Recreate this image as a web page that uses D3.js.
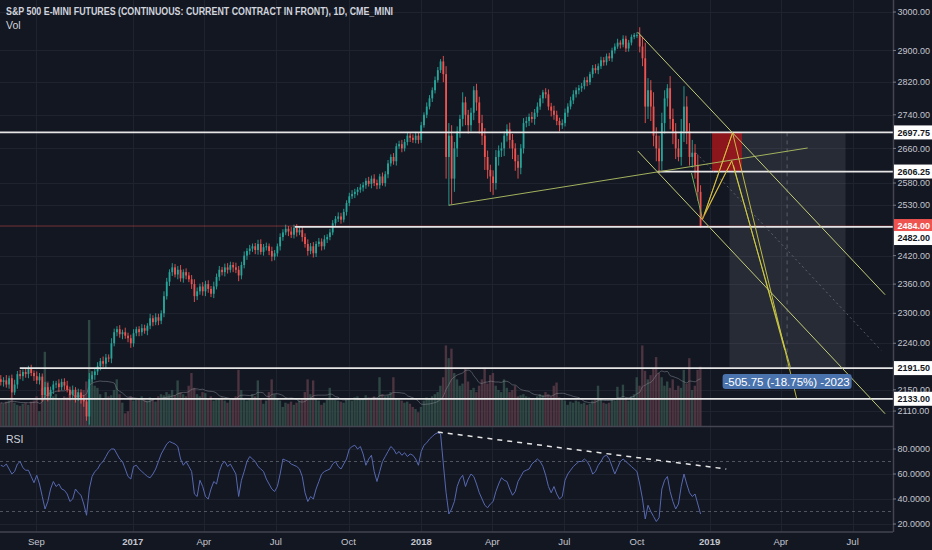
<!DOCTYPE html>
<html lang="en">
<head>
  <meta charset="utf-8">
  <title>S&amp;P 500 E-mini Futures, 1D</title>
  <style>
    body { margin: 0; background: #131722; }
    svg text { font-family: "Liberation Sans", "Open Sans", sans-serif; }
  </style>
</head>
<body>
  <svg id="chart"></svg>

  <script src="https://d3js.org/d3.v7.min.js"></script>
  <script>
    // ---- data (two bars per week) ----
    const startDate = "2016-07-18";
    const firstOpen = 2170;

    const closes = [
      2165, 2168, 2160, 2172, 2145, 2160, 2180, 2176, 2184, 2180,
      2190, 2182, 2176, 2168, 2175, 2140, 2155, 2138, 2150, 2160,
      2162, 2155, 2165, 2158, 2150, 2140, 2150, 2135, 2145, 2132,
      2128, 2100, 2170, 2178, 2185, 2195, 2205, 2200, 2212, 2210,
      2240, 2262, 2268, 2258, 2262, 2255, 2250, 2240, 2260, 2268,
      2262, 2270, 2265, 2275, 2290, 2282, 2292, 2285, 2300, 2335,
      2365, 2385, 2395, 2380, 2390, 2372, 2385, 2378, 2370, 2360,
      2335, 2345, 2355, 2345, 2360, 2350, 2340, 2355, 2375, 2390,
      2385, 2395, 2390, 2400, 2395, 2390, 2378, 2400, 2420, 2430,
      2435, 2440, 2432, 2445, 2428, 2438, 2440, 2430, 2418, 2425,
      2440, 2460, 2470, 2478, 2472, 2465, 2480, 2470, 2475, 2460,
      2445, 2430, 2440, 2425, 2445, 2450, 2440, 2455, 2460, 2470,
      2490, 2500, 2505, 2498, 2515, 2535, 2550, 2555, 2560, 2565,
      2570, 2575, 2585, 2578, 2590, 2580, 2575, 2595, 2580, 2600,
      2625, 2640, 2630, 2665, 2670, 2660, 2675, 2690, 2685, 2680,
      2690, 2680, 2715, 2740, 2760, 2780, 2800, 2825, 2850, 2872,
      2840, 2640, 2690, 2590, 2660, 2700, 2730, 2770, 2740, 2715,
      2745, 2800, 2770, 2720, 2690, 2640, 2610, 2595, 2580, 2640,
      2655, 2660, 2690, 2705, 2680, 2660, 2630, 2615, 2660, 2720,
      2725, 2735, 2730, 2745, 2760, 2780, 2795, 2790, 2760, 2750,
      2740, 2725, 2715, 2720, 2745, 2760, 2775, 2790, 2800, 2805,
      2810, 2825, 2820, 2840, 2855, 2850, 2860, 2875, 2870, 2885,
      2880, 2900, 2910, 2920, 2915, 2930, 2905, 2920, 2935, 2940,
      2940, 2910, 2880, 2760, 2800, 2760, 2690, 2660, 2630, 2720,
      2780, 2805, 2730, 2700, 2660, 2640, 2700, 2760, 2700, 2640,
      2650, 2620, 2560, 2484
    ];

    // wick length above / below the body, in index points
    const wickHi = [
      8, 6, 10, 5, 7, 9, 6, 8, 5, 7,
      6, 8, 5, 9, 7, 6, 10, 8, 6, 7,
      5, 8, 6, 7, 9, 6, 8, 5, 7, 6,
      8, 6, 12, 7, 5, 8, 6, 9, 7, 6,
      10, 7, 6, 8, 5, 9, 6, 7, 8, 5,
      6, 8, 7, 5, 9, 6, 8, 7, 6, 10,
      8, 6, 9, 7, 8, 10, 6, 8, 7, 9,
      10, 8, 6, 9, 7, 8, 6, 10, 7, 8,
      6, 8, 9, 7, 6, 10, 8, 7, 9, 6,
      8, 6, 7, 9, 10, 7, 8, 6, 9, 7,
      6, 8, 7, 9, 6, 10, 7, 8, 6, 9,
      8, 10, 7, 9, 6, 8, 7, 9, 6, 8,
      7, 6, 9, 8, 7, 6, 8, 9, 7, 6,
      8, 7, 6, 9, 7, 10, 8, 6, 9, 7,
      8, 6, 9, 7, 8, 10, 7, 9, 6, 8,
      9, 7, 8, 6, 10, 8, 7, 9, 8, 6,
      14, 20, 30, 25, 15, 12, 10, 25, 14, 12,
      12, 10, 16, 14, 20, 18, 15, 12, 14, 16,
      12, 14, 10, 12, 16, 14, 12, 15, 10, 12,
      10, 8, 12, 9, 10, 8, 6, 10, 12, 9,
      12, 10, 8, 9, 10, 8, 9, 10, 7, 8,
      8, 7, 9, 6, 8, 10, 7, 9, 8, 7,
      9, 7, 8, 10, 6, 9, 8, 7, 6, 5,
      7, 20, 25, 40, 30, 25, 35, 20, 30, 25,
      20, 10, 30, 25, 20, 22, 30, 50, 25, 20,
      30, 20, 25, 15
    ];
    const wickLo = [
      7, 9, 6, 8, 10, 5, 8, 6, 9, 7,
      8, 6, 9, 7, 8, 12, 7, 10, 6, 8,
      7, 9, 6, 8, 5, 10, 7, 9, 6, 8,
      10, 8, 15, 6, 9, 7, 8, 6, 10, 7,
      9, 6, 8, 7, 10, 6, 8, 9, 7, 6,
      8, 7, 6, 9, 7, 8, 6, 9, 7, 8,
      7, 9, 8, 6, 10, 7, 9, 8, 6, 10,
      12, 8, 7, 9, 10, 8, 7, 9, 6, 8,
      7, 9, 8, 6, 10, 7, 12, 8, 7, 9,
      8, 7, 9, 10, 6, 8, 7, 9, 10, 8,
      7, 9, 8, 6, 10, 7, 8, 9, 6, 10,
      8, 10, 7, 9, 8, 6, 9, 7, 8, 7,
      6, 8, 7, 9, 6, 8, 7, 6, 9, 8,
      7, 9, 8, 6, 10, 7, 9, 8, 6, 8,
      9, 7, 8, 10, 6, 9, 7, 8, 10, 7,
      8, 9, 7, 6, 8, 7, 9, 8, 6, 7,
      20, 50, 111, 58, 30, 20, 15, 18, 25, 20,
      15, 18, 20, 25, 22, 30, 20, 35, 27, 15,
      20, 15, 18, 14, 20, 25, 22, 25, 15, 12,
      10, 12, 9, 14, 10, 8, 12, 10, 9, 14,
      12, 10, 15, 9, 8, 10, 7, 9, 8, 10,
      9, 8, 10, 7, 9, 8, 10, 7, 9, 8,
      7, 9, 8, 6, 10, 7, 9, 8, 7, 6,
      8, 15, 20, 40, 30, 35, 25, 30, 27, 20,
      25, 20, 25, 30, 25, 10, 20, 25, 30, 20,
      25, 30, 20, 4
    ];

    // volume, thousands of contracts
    const volumes = [
      1100, 1050, 1150, 1200, 1350, 1100, 1000, 950, 1050, 1100,
      1000, 1150, 1200, 1400, 700, 1800, 3500, 2100, 1600, 1400,
      1500, 1300, 1250, 1400, 1350, 1500, 1300, 1450, 1600, 1550,
      1700, 2100, 5000, 2600, 1900, 1800, 1500, 1300, 1600, 1400,
      1450, 1700, 2200, 1500, 1100, 600, 700, 1400, 1200, 1250,
      1300, 1400, 1250, 1200, 1350, 1300, 1150, 1400, 1500, 1450,
      1600, 1500, 1700, 1450, 2150, 1600, 1500, 1400, 1900, 2500,
      1800, 1500, 1400, 1600, 1550, 1300, 1400, 1200, 1250, 1300,
      1350, 1200, 1100, 1250, 1300, 1400, 2650, 1700, 1300, 1200,
      1250, 1500, 1400, 2150, 1300, 1050, 1200, 1600, 2200, 1500,
      1300, 1200, 900, 1100, 1050, 1150, 1000, 1100, 1200, 1300,
      1600, 2200, 1500, 2150, 1300, 1200, 1000, 1100, 1250, 1800,
      1300, 1250, 1200, 1150, 1100, 1250, 1300, 1200, 1350, 1400,
      1250, 1300, 1450, 1350, 1300, 1400, 1250, 2300, 1500, 1400,
      1450, 1600, 2300, 1300, 1250, 1200, 1100, 1150, 1050, 900,
      800, 650, 900, 1200, 1350, 1300, 1400, 1500, 1600, 1900,
      2300, 3800, 3200, 3650, 2500, 2200, 1900, 2000, 2700, 2100,
      1700, 1800, 1600, 1900, 2200, 2750, 2000, 2400, 2500, 1900,
      1700, 1600, 2200, 1800, 1600, 1700, 1900, 1400, 1450, 1500,
      1400, 1350, 1300, 1250, 1400, 1500, 1450, 1600, 1500, 1400,
      1900, 2050, 1350, 1300, 1200, 1000, 1150, 1100, 1200, 1150,
      1050, 1100, 1000, 1050, 1200, 1250, 1900, 1300, 1100, 1050,
      1100, 1250, 1200, 1850, 1300, 1950, 1300, 1200, 1400, 1500,
      2300, 1900, 3800, 2600, 2200, 2400, 2700, 3250, 2500, 2300,
      1900, 2100, 1800, 2200, 1700, 1900, 1800, 2650, 2000, 3200,
      1700, 1900, 2650, 2800
    ];

    const rsiValues = [
      67, 66, 68, 64, 60, 62, 68, 70, 65, 63,
      63, 58, 53, 59, 52, 42, 32, 38, 48, 54,
      50, 52, 48, 47, 44, 38, 40, 48, 45, 43,
      36, 27, 48, 58, 62, 64, 68, 70, 74, 78,
      80, 80, 76, 72, 70, 64, 58, 56, 66, 67,
      64, 62, 60, 58, 57, 60, 64, 70, 76, 80,
      84, 86, 85, 84, 82, 72, 67, 70, 66, 62,
      44, 42, 55, 50, 42, 40, 48, 54, 52, 62,
      68, 70, 66, 68, 64, 60, 42, 55, 62, 70,
      74, 72, 70, 66, 64, 62, 56, 52, 48, 46,
      50, 60, 72, 71, 70, 68, 67, 66, 64, 58,
      45, 38, 42, 40, 48, 54, 60, 62, 63, 64,
      68, 70, 66, 64, 68, 72, 80, 82, 83, 80,
      82, 76, 67, 72, 75, 62, 54, 62, 70, 74,
      78, 82, 80, 76, 78, 75, 77, 74, 76, 75,
      72, 67, 78, 83, 85, 88, 90, 92, 93, 92,
      68, 45, 28, 32, 38, 50, 56, 59, 50, 56,
      60, 58, 52, 45, 40, 35, 33, 36, 38, 46,
      52, 57, 55, 54, 48, 43, 46, 54, 58, 62,
      63, 64, 68, 70, 72, 70, 66, 59, 50, 45,
      50, 44, 40, 42, 55, 60, 63, 66, 68, 70,
      70, 72, 70, 66, 60, 62, 67, 70, 74, 75,
      72, 66, 60, 65, 70, 72, 70, 68, 66, 64,
      62, 52, 40, 24, 35, 30, 26, 22, 25, 48,
      55, 58, 46, 38, 32, 36, 50, 60, 52, 45,
      42, 44, 36, 28
    ];

    const priceTicks = [3000, 2900, 2820, 2740, 2660, 2580, 2530, 2420, 2360, 2300, 2240, 2150, 2110];
    const rsiTicks = [20, 40, 60, 80];
    const rsiBands = [70, 30];
    const timeTicks = ["2016-09-01", "2017-01-01", "2017-04-01", "2017-07-01", "2017-10-01", "2018-01-01",
                       "2018-04-01", "2018-07-01", "2018-10-01", "2019-01-01", "2019-04-01", "2019-07-01"];
    const timeLabels = ["Sep", "2017", "Apr", "Jul", "Oct", "2018", "Apr", "Jul", "Oct", "2019", "Apr", "Jul"];

    // horizontal levels and where each one starts
    const levelPrices = [2697.75, 2606.25, 2482.00, 2191.50, 2133.00];
    const levelStarts = ["2016-07-17", "2018-10-27", "2017-07-25", "2016-08-11", "2016-07-17"];

    // drawings, as [date, price] end points
    const channelLines = [
      [["2018-10-02", 2947], ["2019-08-11", 2338]],
      [["2018-10-02", 2654], ["2019-08-11", 2105]]
    ];
    const channelMid = [["2018-12-15", 2649], ["2019-08-06", 2226]];
    const supportLine = [["2018-02-05", 2530], ["2019-05-05", 2661]];
    const swingLine = [["2018-12-09", 2603], ["2018-12-23", 2499]];
    const fanOrange = [
      [["2018-12-23", 2499], ["2019-01-30", 2697]],
      [["2018-12-23", 2499], ["2019-01-29", 2631]]
    ];
    const fanYellow = [
      [["2018-12-25", 2508], ["2019-01-30", 2697]],
      [["2018-12-26", 2512], ["2019-01-29", 2631]],
      [["2019-01-30", 2697], ["2019-04-21", 2134]],
      [["2019-01-29", 2631], ["2019-04-13", 2194]],
      [["2019-01-31", 2621], ["2019-04-06", 2227]]
    ];
    const stopZone = [["2019-01-04", 2697.75], ["2019-02-11", 2606.25]];
    const targetZone = [["2019-01-26", 2697.75], ["2019-06-22", 2191.50]];
    const measureDate = "2019-04-09";
    const measureText = "-505.75 (-18.75%) -2023";
    const lastPrice = 2484.00;
    const rsiTrend = [["2018-01-22", 93.6], ["2019-01-22", 64]];

    const title = "S&P 500 E-MINI FUTURES (CONTINUOUS: CURRENT CONTRACT IN FRONT), 1D, CME_MINI";

    // ---- layout ----
    const W = 932, H = 550;
    const axisX = 893, mainBottom = 426, rsiTop = 427, rsiBottom = 532;
    const bg = "#131722", gridColor = "#1f2330", axisText = "#c3c6ce";

    const parseDay = d3.timeParse("%Y-%m-%d");

    const x = d3.scaleTime()
      .domain([parseDay("2016-07-17"), parseDay("2019-08-21")])
      .range([0, axisX]);
    const y = d3.scaleLog().domain([2082.4, 3000]).range([mainBottom, 12]);
    const yVol = d3.scaleLinear().domain([0, 5000]).range([mainBottom, 320]);
    const yRsi = d3.scaleLinear().domain([20, 80]).range([524, 449]);

    const start = parseDay(startDate);
    const bars = closes.map((c, i) => {
      const open = i === 0 ? firstOpen : closes[i - 1];
      return {
        date: d3.timeHour.offset(start, i * 84),
        open: open,
        close: c,
        high: Math.max(open, c) + wickHi[i],
        low: Math.min(open, c) - wickLo[i],
        vol: volumes[i],
        rsi: rsiValues[i]
      };
    });
    const step = x(bars[1].date) - x(bars[0].date);

    // simple moving average of volume (10 bars ~ 20 sessions)
    const volMa = bars.map((b, i) => {
      const from = Math.max(0, i - 9);
      return { date: b.date, v: d3.mean(bars.slice(from, i + 1), d => d.vol) };
    });

    const pt = p => [x(parseDay(p[0])), y(p[1])];

    const svg = d3.select("#chart").attr("width", W).attr("height", H);
    svg.append("rect").attr("width", W).attr("height", H).attr("fill", bg);

    const defs = svg.append("defs");
    defs.append("clipPath").attr("id", "mainClip")
      .append("rect").attr("x", 0).attr("y", 0).attr("width", axisX).attr("height", mainBottom);
    defs.append("clipPath").attr("id", "rsiClip")
      .append("rect").attr("x", 0).attr("y", rsiTop).attr("width", axisX).attr("height", rsiBottom - rsiTop);

    // ---- grid ----
    const grid = svg.append("g").attr("stroke", gridColor).attr("stroke-width", 1);
    grid.selectAll("line.v").data(timeTicks).join("line")
      .attr("x1", d => Math.round(x(parseDay(d))) + 0.5)
      .attr("x2", d => Math.round(x(parseDay(d))) + 0.5)
      .attr("y1", 0).attr("y2", rsiBottom);
    grid.selectAll("line.h").data(priceTicks).join("line")
      .attr("x1", 0).attr("x2", axisX)
      .attr("y1", d => Math.round(y(d)) + 0.5)
      .attr("y2", d => Math.round(y(d)) + 0.5);
    grid.selectAll("line.r").data(rsiTicks).join("line")
      .attr("x1", 0).attr("x2", axisX)
      .attr("y1", d => Math.round(yRsi(d)) + 0.5)
      .attr("y2", d => Math.round(yRsi(d)) + 0.5);

    // ---- main pane ----
    const main = svg.append("g").attr("clip-path", "url(#mainClip)");

    // volume
    main.append("g").selectAll("rect").data(bars).join("rect")
      .attr("x", d => x(d.date) - step / 2)
      .attr("width", step - 0.4)
      .attr("y", d => yVol(d.vol))
      .attr("height", d => mainBottom - yVol(d.vol))
      .attr("fill", d => d.close >= d.open ? "#34504a" : "#573a45")
      .attr("opacity", 0.85);

    main.append("path")
      .datum(volMa)
      .attr("fill", "none")
      .attr("stroke", "#8a8d96")
      .attr("stroke-opacity", 0.5)
      .attr("stroke-width", 1)
      .attr("d", d3.line().x(d => x(d.date)).y(d => yVol(d.v)).curve(d3.curveMonotoneX));

    // candles
    const candle = main.append("g").selectAll("g").data(bars).join("g")
      .attr("stroke", d => d.close >= d.open ? "#26a69a" : "#ef5350")
      .attr("fill", d => d.close >= d.open ? "#26a69a" : "#ef5350");
    candle.append("line")
      .attr("x1", d => x(d.date)).attr("x2", d => x(d.date))
      .attr("y1", d => y(d.high)).attr("y2", d => y(d.low))
      .attr("stroke-width", 0.9);
    candle.append("rect")
      .attr("stroke", "none")
      .attr("x", d => x(d.date) - 0.9)
      .attr("width", 1.8)
      .attr("y", d => y(Math.max(d.open, d.close)))
      .attr("height", d => Math.max(1, Math.abs(y(d.open) - y(d.close))));

    // last price line
    main.append("line")
      .attr("x1", 0).attr("x2", axisX)
      .attr("y1", y(lastPrice)).attr("y2", y(lastPrice))
      .attr("stroke", "#ef5350").attr("stroke-opacity", 0.45).attr("stroke-width", 1);

    // target / stop zones
    main.append("rect")
      .attr("x", pt(targetZone[0])[0]).attr("y", pt(targetZone[0])[1])
      .attr("width", pt(targetZone[1])[0] - pt(targetZone[0])[0])
      .attr("height", pt(targetZone[1])[1] - pt(targetZone[0])[1])
      .attr("fill", "#ffffff").attr("fill-opacity", 0.085);
    main.append("rect")
      .attr("x", pt(stopZone[0])[0]).attr("y", pt(stopZone[0])[1])
      .attr("width", pt(stopZone[1])[0] - pt(stopZone[0])[0])
      .attr("height", pt(stopZone[1])[1] - pt(stopZone[0])[1])
      .attr("fill", "#a8151b").attr("fill-opacity", 0.82);
    main.append("line")
      .attr("x1", x(parseDay(measureDate))).attr("x2", x(parseDay(measureDate)))
      .attr("y1", y(targetZone[0][1])).attr("y2", y(targetZone[1][1]))
      .attr("stroke", "#9598a1").attr("stroke-opacity", 0.45)
      .attr("stroke-dasharray", "4,4");

    // horizontal levels
    main.append("g").selectAll("line").data(levelPrices).join("line")
      .attr("x1", (d, i) => x(parseDay(levelStarts[i])))
      .attr("x2", axisX)
      .attr("y1", d => y(d)).attr("y2", d => y(d))
      .attr("stroke", "#e6e6e6").attr("stroke-width", 1.8);

    const seg = (g, data, color, width, dash) => g.append("g").selectAll("line").data(data).join("line")
      .attr("x1", d => pt(d[0])[0]).attr("y1", d => pt(d[0])[1])
      .attr("x2", d => pt(d[1])[0]).attr("y2", d => pt(d[1])[1])
      .attr("stroke", color).attr("stroke-width", width)
      .attr("stroke-dasharray", dash || null);

    seg(main, [channelMid], "#8a8f9a", 1, "2,3").attr("stroke-opacity", 0.55);
    seg(main, [supportLine], "#a3b25e", 1);
    seg(main, channelLines, "#c4cd78", 1);
    seg(main, [swingLine], "#6fae5a", 1);
    seg(main, fanOrange, "#e0952f", 0.9);
    seg(main, fanYellow, "#cfcc45", 0.9);

    // measure label
    const mx = x(parseDay(measureDate));
    const my = y(targetZone[1][1]) + 6;
    main.append("rect")
      .attr("x", mx - 64.5).attr("y", my).attr("width", 129).attr("height", 15)
      .attr("rx", 3).attr("fill", "#4a73ad");
    main.append("text")
      .attr("x", mx).attr("y", my + 11.5)
      .attr("text-anchor", "middle")
      .attr("fill", "#ffffff").attr("font-size", 11.5)
      .text(measureText);

    // ---- RSI pane ----
    const rsi = svg.append("g").attr("clip-path", "url(#rsiClip)");
    rsi.append("g").selectAll("line").data(rsiBands).join("line")
      .attr("x1", 0).attr("x2", axisX)
      .attr("y1", d => yRsi(d)).attr("y2", d => yRsi(d))
      .attr("stroke", "#787b86").attr("stroke-opacity", 0.6)
      .attr("stroke-dasharray", "3,3");
    rsi.append("path")
      .datum(bars)
      .attr("fill", "none")
      .attr("stroke", "#5668b0")
      .attr("stroke-width", 1)
      .attr("d", d3.line().x(d => x(d.date)).y(d => yRsi(d.rsi)));
    rsi.append("line")
      .attr("x1", x(parseDay(rsiTrend[0][0]))).attr("y1", yRsi(rsiTrend[0][1]))
      .attr("x2", x(parseDay(rsiTrend[1][0]))).attr("y2", yRsi(rsiTrend[1][1]))
      .attr("stroke", "#e6e6e6").attr("stroke-width", 1.5)
      .attr("stroke-dasharray", "5,5");

    // ---- frame ----
    const frame = svg.append("g").attr("stroke", "#434651").attr("stroke-width", 1.5);
    frame.append("line").attr("x1", 0).attr("x2", axisX).attr("y1", mainBottom + 0.5).attr("y2", mainBottom + 0.5);
    frame.append("line").attr("x1", 0).attr("x2", axisX).attr("y1", rsiBottom).attr("y2", rsiBottom);
    frame.append("line").attr("x1", axisX + 0.5).attr("x2", axisX + 0.5).attr("y1", 0).attr("y2", rsiBottom);

    // ---- price axis ----
    const axisG = svg.append("g");
    axisG.selectAll("line.t").data(priceTicks).join("line")
      .attr("x1", axisX).attr("x2", axisX + 3)
      .attr("y1", d => y(d)).attr("y2", d => y(d))
      .attr("stroke", "#787b86");
    axisG.selectAll("text.p").data(priceTicks).join("text")
      .attr("x", axisX + 4.5).attr("y", d => y(d) + 3.2)
      .attr("fill", axisText).attr("font-size", 9)
      .text(d => d3.format(".2f")(d));

    axisG.selectAll("line.rt").data(rsiTicks).join("line")
      .attr("x1", axisX).attr("x2", axisX + 3)
      .attr("y1", d => yRsi(d)).attr("y2", d => yRsi(d))
      .attr("stroke", "#787b86");
    axisG.selectAll("text.r").data(rsiTicks).join("text")
      .attr("x", axisX + 4.5).attr("y", d => yRsi(d) + 3.2)
      .attr("fill", axisText).attr("font-size", 9)
      .text(d => d3.format(".4f")(d));

    // level tags on the price axis
    const tags = levelPrices.map(p => ({ price: p, fill: "#ffffff", color: "#131722" }))
      .concat([{ price: lastPrice, fill: "#ef5350", color: "#ffffff" }])
      .map(t => Object.assign(t, { ty: y(t.price) }))
      .sort((a, b) => a.ty - b.ty);
    for (let i = 1; i < tags.length; i++) {
      if (tags[i].ty - tags[i - 1].ty < 12) tags[i].ty = tags[i - 1].ty + 12;
    }
    const tagG = axisG.selectAll("g.tag").data(tags).join("g")
      .attr("transform", d => `translate(${axisX + 1},${d.ty})`);
    tagG.append("rect")
      .attr("x", 0).attr("y", -7).attr("width", W - axisX - 1).attr("height", 14)
      .attr("fill", d => d.fill);
    tagG.append("text")
      .attr("x", 3.5).attr("y", 3.2)
      .attr("fill", d => d.color).attr("font-size", 9).attr("font-weight", 700)
      .text(d => d3.format(".2f")(d.price));

    // ---- time axis ----
    svg.append("g").selectAll("text").data(timeTicks).join("text")
      .attr("x", d => x(parseDay(d)))
      .attr("y", 545)
      .attr("text-anchor", "middle")
      .attr("fill", axisText).attr("font-size", 9.5)
      .attr("font-weight", (d, i) => /^\d{4}$/.test(timeLabels[i]) ? 700 : 400)
      .text((d, i) => timeLabels[i]);

    // ---- legends ----
    svg.append("text")
      .attr("x", 6).attr("y", 15)
      .attr("fill", "#d1d4dc").attr("font-size", 10).attr("font-weight", 700)
      .attr("textLength", 387).attr("lengthAdjust", "spacingAndGlyphs")
      .text(title);
    svg.append("text").attr("x", 6).attr("y", 29)
      .attr("fill", "#d1d4dc").attr("font-size", 10.5).text("Vol");
    svg.append("text").attr("x", 6).attr("y", 443)
      .attr("fill", "#d1d4dc").attr("font-size", 10.5).text("RSI");
  </script>
</body>
</html>
